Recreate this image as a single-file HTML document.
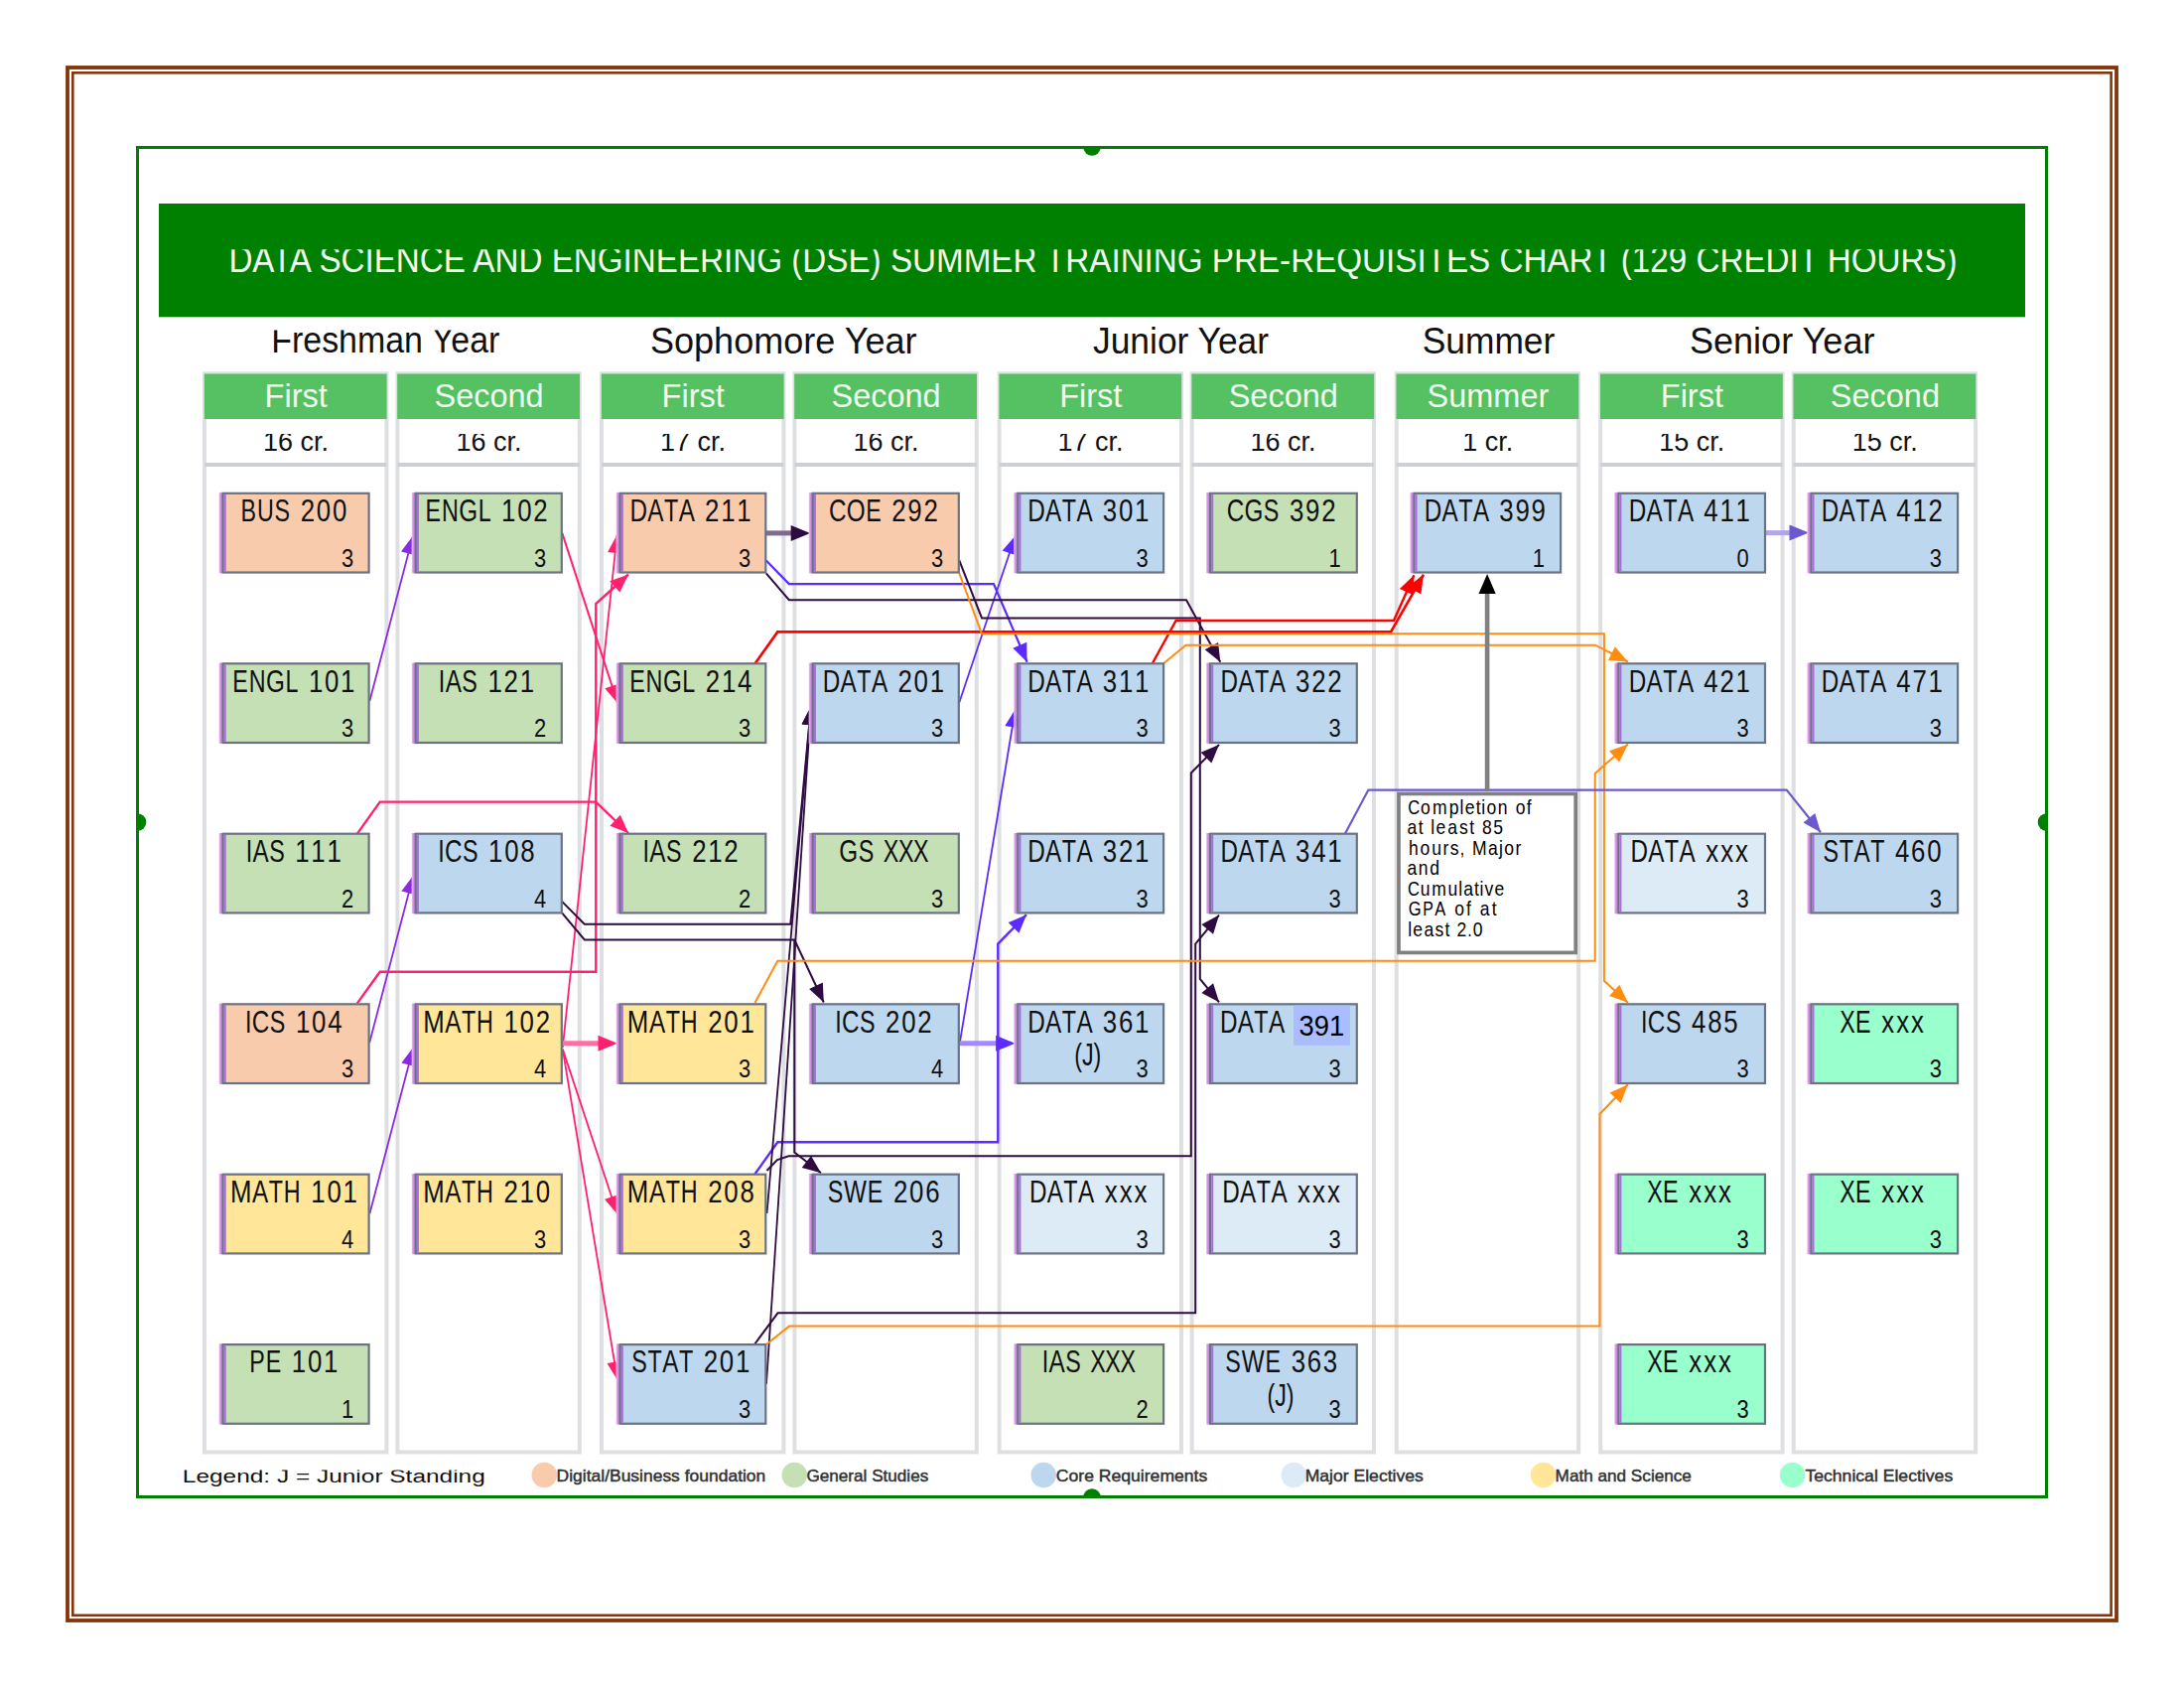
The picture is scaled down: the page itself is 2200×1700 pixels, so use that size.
<!DOCTYPE html><html><head><meta charset="utf-8"><title>DSE Chart</title>
<style>html,body{margin:0;padding:0;background:#fff}svg{display:block}</style></head><body>
<svg width="2200" height="1700" viewBox="0 0 2200 1700" font-family="Liberation Sans, sans-serif">
<rect width="2200" height="1700" fill="#fff"/>
<defs><linearGradient id="og" x1="0" x2="1" y1="0" y2="0"><stop offset="0" stop-color="#F0D0F5"/><stop offset="0.4" stop-color="#D893E8"/><stop offset="1" stop-color="#BF7DD8"/></linearGradient></defs>
<rect x="68" y="68" width="2064" height="1564" fill="none" stroke="#84350C" stroke-width="3.8"/>
<rect x="73.3" y="73.3" width="2053.3" height="1553.5" fill="none" stroke="#84350C" stroke-width="2.6"/>
<clipPath id="c1"><rect x="0" y="251.2" width="2200" height="60"/></clipPath><clipPath id="c2"><rect x="0" y="332.5" width="2200" height="60"/></clipPath><clipPath id="c3"><rect x="0" y="436.9" width="2200" height="60"/></clipPath><clipPath id="c4"><rect x="0" y="1480.5" width="2200" height="60"/></clipPath>
<clipPath id="gc"><rect x="137" y="147" width="1926" height="1362"/></clipPath>
<g clip-path="url(#gc)">
<circle cx="1100" cy="148" r="8.8" fill="#008000"/>
<circle cx="1100" cy="1508" r="8.8" fill="#008000"/>
<circle cx="138.5" cy="828" r="8.8" fill="#008000"/>
<circle cx="2061.5" cy="828" r="8.8" fill="#008000"/>
</g>
<rect x="138.5" y="148.5" width="1923" height="1359" fill="none" stroke="#008000" stroke-width="3"/>
<rect x="160" y="205" width="1880" height="114.3" fill="#008000"/>
<g clip-path="url(#c1)"><text transform="translate(230.4 273.6) scale(1 1.10)" x="0" y="0" font-size="33.2" fill="#F2FAF0" textLength="1741.2" lengthAdjust="spacingAndGlyphs">DATA SCIENCE AND ENGINEERING (DSE) SUMMER TRAINING PRE-REQUISITES CHART (129 CREDIT HOURS)</text></g>
<text x="273.3" y="355.0" font-size="36" fill="#111" text-anchor="start" textLength="230.0" lengthAdjust="spacingAndGlyphs" clip-path="url(#c2)">Freshman Year</text>
<text x="655.0" y="355.6" font-size="36" fill="#111" text-anchor="start" textLength="268.5" lengthAdjust="spacingAndGlyphs" >Sophomore Year</text>
<text x="1101.0" y="355.6" font-size="36" fill="#111" text-anchor="start" textLength="177.0" lengthAdjust="spacingAndGlyphs" >Junior Year</text>
<text x="1432.7" y="355.6" font-size="36" fill="#111" text-anchor="start" textLength="133.6" lengthAdjust="spacingAndGlyphs" >Summer</text>
<text x="1701.9" y="355.6" font-size="36" fill="#111" text-anchor="start" textLength="186.6" lengthAdjust="spacingAndGlyphs" >Senior Year</text>
<rect x="206.0" y="376.3" width="183.4" height="1086.2" fill="#fff" stroke="#DEDFE2" stroke-width="4"/>
<rect x="205.8" y="376.5" width="183.8" height="45.5" fill="#55C162"/>
<rect x="206.0" y="466" width="183.4" height="4" fill="#CDD0D5"/>
<text x="298.2" y="409.8" font-size="32.5" fill="#F0FAEF" text-anchor="middle" >First</text>
<text x="298.0" y="453.6" font-size="27" fill="#111" text-anchor="middle" clip-path="url(#c3)">16 cr.</text>
<rect x="400.4" y="376.3" width="183.4" height="1086.2" fill="#fff" stroke="#DEDFE2" stroke-width="4"/>
<rect x="400.2" y="376.5" width="183.8" height="45.5" fill="#55C162"/>
<rect x="400.4" y="466" width="183.4" height="4" fill="#CDD0D5"/>
<text x="492.6" y="409.8" font-size="32.5" fill="#F0FAEF" text-anchor="middle" >Second</text>
<text x="492.4" y="453.6" font-size="27" fill="#111" text-anchor="middle" clip-path="url(#c3)">16 cr.</text>
<rect x="606.0" y="376.3" width="183.4" height="1086.2" fill="#fff" stroke="#DEDFE2" stroke-width="4"/>
<rect x="605.8" y="376.5" width="183.8" height="45.5" fill="#55C162"/>
<rect x="606.0" y="466" width="183.4" height="4" fill="#CDD0D5"/>
<text x="698.2" y="409.8" font-size="32.5" fill="#F0FAEF" text-anchor="middle" >First</text>
<text x="698.0" y="453.6" font-size="27" fill="#111" text-anchor="middle" clip-path="url(#c3)">17 cr.</text>
<rect x="800.4" y="376.3" width="183.4" height="1086.2" fill="#fff" stroke="#DEDFE2" stroke-width="4"/>
<rect x="800.2" y="376.5" width="183.8" height="45.5" fill="#55C162"/>
<rect x="800.4" y="466" width="183.4" height="4" fill="#CDD0D5"/>
<text x="892.6" y="409.8" font-size="32.5" fill="#F0FAEF" text-anchor="middle" >Second</text>
<text x="892.4" y="453.6" font-size="27" fill="#111" text-anchor="middle" clip-path="url(#c3)">16 cr.</text>
<rect x="1006.6" y="376.3" width="183.4" height="1086.2" fill="#fff" stroke="#DEDFE2" stroke-width="4"/>
<rect x="1006.4" y="376.5" width="183.8" height="45.5" fill="#55C162"/>
<rect x="1006.6" y="466" width="183.4" height="4" fill="#CDD0D5"/>
<text x="1098.8" y="409.8" font-size="32.5" fill="#F0FAEF" text-anchor="middle" >First</text>
<text x="1098.6" y="453.6" font-size="27" fill="#111" text-anchor="middle" clip-path="url(#c3)">17 cr.</text>
<rect x="1200.6" y="376.3" width="183.4" height="1086.2" fill="#fff" stroke="#DEDFE2" stroke-width="4"/>
<rect x="1200.4" y="376.5" width="183.8" height="45.5" fill="#55C162"/>
<rect x="1200.6" y="466" width="183.4" height="4" fill="#CDD0D5"/>
<text x="1292.8" y="409.8" font-size="32.5" fill="#F0FAEF" text-anchor="middle" >Second</text>
<text x="1292.6" y="453.6" font-size="27" fill="#111" text-anchor="middle" clip-path="url(#c3)">16 cr.</text>
<rect x="1406.7" y="376.3" width="183.4" height="1086.2" fill="#fff" stroke="#DEDFE2" stroke-width="4"/>
<rect x="1406.5" y="376.5" width="183.8" height="45.5" fill="#55C162"/>
<rect x="1406.7" y="466" width="183.4" height="4" fill="#CDD0D5"/>
<text x="1498.9" y="409.8" font-size="32.5" fill="#F0FAEF" text-anchor="middle" >Summer</text>
<text x="1498.7" y="453.6" font-size="27" fill="#111" text-anchor="middle" clip-path="url(#c3)">1 cr.</text>
<rect x="1612.2" y="376.3" width="183.4" height="1086.2" fill="#fff" stroke="#DEDFE2" stroke-width="4"/>
<rect x="1612.0" y="376.5" width="183.8" height="45.5" fill="#55C162"/>
<rect x="1612.2" y="466" width="183.4" height="4" fill="#CDD0D5"/>
<text x="1704.4" y="409.8" font-size="32.5" fill="#F0FAEF" text-anchor="middle" >First</text>
<text x="1704.2" y="453.6" font-size="27" fill="#111" text-anchor="middle" clip-path="url(#c3)">15 cr.</text>
<rect x="1806.7" y="376.3" width="183.4" height="1086.2" fill="#fff" stroke="#DEDFE2" stroke-width="4"/>
<rect x="1806.5" y="376.5" width="183.8" height="45.5" fill="#55C162"/>
<rect x="1806.7" y="466" width="183.4" height="4" fill="#CDD0D5"/>
<text x="1898.9" y="409.8" font-size="32.5" fill="#F0FAEF" text-anchor="middle" >Second</text>
<text x="1898.7" y="453.6" font-size="27" fill="#111" text-anchor="middle" clip-path="url(#c3)">15 cr.</text>
<path d="M372.4,706.0 L416.0,539.5" fill="none" stroke="#8A2BE2" stroke-width="1.8" stroke-linejoin="miter"/>
<polygon points="416.0,539.5 418.7,559.3 404.0,555.5" fill="#8A2BE2"/>
<path d="M372.2,1050.2 L416.4,881.5" fill="none" stroke="#8A2BE2" stroke-width="1.8" stroke-linejoin="miter"/>
<polygon points="416.4,881.5 419.1,901.3 404.4,897.5" fill="#8A2BE2"/>
<path d="M372.5,1222.0 L416.4,1054.5" fill="none" stroke="#8A2BE2" stroke-width="1.8" stroke-linejoin="miter"/>
<polygon points="416.4,1054.5 419.1,1074.3 404.4,1070.5" fill="#8A2BE2"/>
<path d="M566.3,536.9 L622.3,708.5" fill="none" stroke="#FF2070" stroke-width="2" stroke-linejoin="miter"/>
<polygon points="622.3,708.5 609.3,693.3 623.8,688.6" fill="#FF2070"/>
<path d="M359.9,839.6 L382.7,807.6 L600.2,807.6 L633.0,839.0" fill="none" stroke="#FF2070" stroke-width="2.4" stroke-linejoin="miter"/>
<polygon points="633.0,839.0 614.4,831.7 624.9,820.7" fill="#FF2070"/>
<path d="M359.9,1010.4 L382.7,978.8 L600.3,978.8 L600.3,608.0 L633.0,578.5" fill="none" stroke="#FF2070" stroke-width="2.4" stroke-linejoin="miter"/>
<polygon points="633.0,578.5 624.4,596.5 614.2,585.2" fill="#FF2070"/>
<path d="M566.8,1055.0 L621.6,538.5" fill="none" stroke="#FF2070" stroke-width="1.8" stroke-linejoin="miter"/>
<polygon points="621.6,538.5 627.2,557.7 612.1,556.1" fill="#FF2070"/>
<path d="M566.8,1056.6 L622.0,1223.0" fill="none" stroke="#FF2070" stroke-width="1.8" stroke-linejoin="miter"/>
<polygon points="622.0,1223.0 609.0,1207.8 623.4,1203.0" fill="#FF2070"/>
<path d="M566.8,1056.6 L622.0,1390.0" fill="none" stroke="#FF2070" stroke-width="1.8" stroke-linejoin="miter"/>
<polygon points="622.0,1390.0 611.5,1373.0 626.5,1370.5" fill="#FF2070"/>
<line x1="566" y1="1050.8" x2="606" y2="1050.8" stroke="#FF6FA3" stroke-width="5"/>
<polygon points="622.0,1050.8 602.5,1058.8 602.5,1042.8" fill="#FF2070"/>
<line x1="771.5" y1="536.9" x2="800" y2="536.9" stroke="#7D6A8C" stroke-width="5"/>
<polygon points="816.2,536.9 796.7,544.9 796.7,528.9" fill="#2E0B40"/>
<path d="M771.8,564.6 L794.8,588.1 L1001.0,588.1 L1034.6,666.8" fill="none" stroke="#5B2BFF" stroke-width="2.2" stroke-linejoin="miter"/>
<polygon points="1034.6,666.8 1020.3,652.8 1034.3,646.8" fill="#5B2BFF"/>
<path d="M966.2,707.8 L1022.8,539.5" fill="none" stroke="#5B2BFF" stroke-width="1.8" stroke-linejoin="miter"/>
<polygon points="1022.8,539.5 1024.1,559.5 1009.7,554.6" fill="#5B2BFF"/>
<path d="M966.9,1049.7 L1022.8,714.0" fill="none" stroke="#5B2BFF" stroke-width="1.8" stroke-linejoin="miter"/>
<polygon points="1022.8,714.0 1027.3,733.5 1012.3,731.0" fill="#5B2BFF"/>
<path d="M760.4,1182.5 L783.3,1150.2 L1005.3,1150.2 L1005.3,950.6 L1034.0,921.2" fill="none" stroke="#5B2BFF" stroke-width="2.4" stroke-linejoin="miter"/>
<polygon points="1034.0,921.2 1026.5,939.7 1015.6,929.1" fill="#5B2BFF"/>
<line x1="966.5" y1="1050.8" x2="1006" y2="1050.8" stroke="#A488FF" stroke-width="5"/>
<polygon points="1022.6,1050.8 1003.1,1058.8 1003.1,1042.8" fill="#5B2BFF"/>
<path d="M771.8,577.4 L794.8,604.2 L1195.0,604.2 L1229.3,666.8" fill="none" stroke="#2E0B40" stroke-width="2" stroke-linejoin="miter"/>
<polygon points="1229.3,666.8 1213.7,654.2 1227.1,646.9" fill="#2E0B40"/>
<path d="M966.2,564.2 L989.0,622.4 L1208.8,622.4 L1208.8,986.0 L1228.0,1009.3" fill="none" stroke="#2E0B40" stroke-width="2" stroke-linejoin="miter"/>
<polygon points="1228.0,1009.3 1210.4,999.9 1222.1,990.2" fill="#2E0B40"/>
<path d="M566.1,907.9 L588.8,930.8 L796.3,930.8 L816.9,711.5" fill="none" stroke="#2E0B40" stroke-width="2" stroke-linejoin="miter"/>
<polygon points="816.9,711.5 822.7,730.6 807.6,729.2" fill="#2E0B40"/>
<path d="M566.1,919.3 L588.8,946.5 L800.3,946.5 L829.8,1009.5" fill="none" stroke="#2E0B40" stroke-width="2" stroke-linejoin="miter"/>
<polygon points="829.8,1009.5 815.1,996.0 828.8,989.5" fill="#2E0B40"/>
<path d="M800.3,946.5 L800.3,1160.6 L827.0,1181.3" fill="none" stroke="#2E0B40" stroke-width="2" stroke-linejoin="miter"/>
<polygon points="827.0,1181.3 807.7,1176.0 817.0,1164.0" fill="#2E0B40"/>
<path d="M772.5,1222.0 L816.9,711.5" fill="none" stroke="#2E0B40" stroke-width="1.8" stroke-linejoin="miter"/>
<polygon points="816.9,711.5 822.9,730.6 807.7,729.3" fill="#2E0B40"/>
<path d="M772.0,1393.8 L816.9,711.5" fill="none" stroke="#2E0B40" stroke-width="1.8" stroke-linejoin="miter"/>
<polygon points="816.9,711.5 823.3,730.5 808.1,729.5" fill="#2E0B40"/>
<path d="M772.5,1179.0 L783.0,1168.0 L794.5,1164.3 L1199.8,1164.3 L1199.8,778.5 L1228.0,750.0" fill="none" stroke="#2E0B40" stroke-width="2" stroke-linejoin="miter"/>
<polygon points="1228.0,750.0 1220.4,768.5 1209.6,757.8" fill="#2E0B40"/>
<path d="M760.0,1354.0 L783.5,1322.3 L1204.2,1322.3 L1204.2,950.6 L1228.0,921.6" fill="none" stroke="#2E0B40" stroke-width="2" stroke-linejoin="miter"/>
<polygon points="1228.0,921.6 1222.1,940.7 1210.4,931.1" fill="#2E0B40"/>
<path d="M760.4,668.4 L783.3,636.4 L1401.0,636.4 L1434.0,578.6" fill="none" stroke="#FF0000" stroke-width="2.6" stroke-linejoin="miter"/>
<polygon points="1434.0,578.6 1431.4,598.4 1418.2,590.9" fill="#FF0000"/>
<path d="M1160.9,668.0 L1184.6,625.0 L1404.0,625.0 L1424.4,579.2" fill="none" stroke="#FF0000" stroke-width="2.4" stroke-linejoin="miter"/>
<polygon points="1424.4,579.2 1423.8,599.2 1409.9,593.0" fill="#FF0000"/>
<path d="M966.2,577.0 L989.0,638.2 L1615.9,638.2 L1615.9,987.7 L1639.9,1009.8" fill="none" stroke="#FF8C10" stroke-width="2" stroke-linejoin="miter"/>
<polygon points="1639.9,1009.8 1621.1,1002.9 1631.4,991.7" fill="#FF8C10"/>
<path d="M1172.3,668.0 L1194.5,649.7 L1607.0,649.7 L1639.9,666.5" fill="none" stroke="#FF8C10" stroke-width="2" stroke-linejoin="miter"/>
<polygon points="1639.9,666.5 1620.0,664.9 1626.9,651.3" fill="#FF8C10"/>
<path d="M760.4,1010.0 L783.3,967.7 L1606.7,967.7 L1606.7,779.0 L1639.9,749.6" fill="none" stroke="#FF8C10" stroke-width="2" stroke-linejoin="miter"/>
<polygon points="1639.9,749.6 1631.1,767.6 1621.0,756.2" fill="#FF8C10"/>
<path d="M772.0,1354.0 L795.0,1335.6 L1611.5,1335.6 L1611.5,1122.0 L1639.9,1092.3" fill="none" stroke="#FF8C10" stroke-width="2" stroke-linejoin="miter"/>
<polygon points="1639.9,1092.3 1632.6,1110.9 1621.6,1100.4" fill="#FF8C10"/>
<path d="M1355.0,839.4 L1378.4,795.6 L1799.7,795.6 L1834.0,838.2" fill="none" stroke="#6A5ACD" stroke-width="2.2" stroke-linejoin="miter"/>
<polygon points="1834.0,838.2 1816.5,828.6 1828.3,819.0" fill="#6A5ACD"/>
<line x1="1778.5" y1="536.6" x2="1806" y2="536.6" stroke="#B3A6E6" stroke-width="5"/>
<polygon points="1822.0,536.6 1802.5,544.6 1802.5,528.6" fill="#6A5ACD"/>
<line x1="1498.1" y1="797" x2="1498.1" y2="595" stroke="#808080" stroke-width="4.6"/>
<polygon points="1498.1,578.0 1506.7,598.0 1489.5,598.0" fill="#000"/>
<rect x="220.5" y="496.1" width="3.4" height="81.2" fill="url(#og)"/>
<rect x="224.6" y="496.8" width="147.0" height="79.7" fill="#F8CBAD" stroke="#6B7383" stroke-width="2.2"/>
<rect x="225.7" y="497.9" width="2" height="77.5" fill="#AC69E0"/>
<text transform="translate(296.1 525.1) scale(0.74 1)" x="-72.50 -50.30 -26.38" y="0" font-size="31.5" fill="#111">BUS</text>
<text transform="translate(296.1 525.1) scale(0.82 1)" x="8.06 27.71 47.36" y="0" font-size="31.5" fill="#111">200</text>
<text x="356.1" y="570.7" font-size="25" fill="#111" text-anchor="end" textLength="12.2" lengthAdjust="spacingAndGlyphs" >3</text>
<rect x="220.5" y="667.6" width="3.4" height="81.2" fill="url(#og)"/>
<rect x="224.6" y="668.3" width="147.0" height="79.7" fill="#C5E0B4" stroke="#6B7383" stroke-width="2.2"/>
<rect x="225.7" y="669.4" width="2" height="77.5" fill="#AC69E0"/>
<text transform="translate(296.1 696.6) scale(0.74 1)" x="-83.57 -61.38" y="0" font-size="31.5" fill="#111">EN</text>
<text transform="translate(296.1 696.6) scale(0.77 1)" x="-36.38" y="0" font-size="31.5" fill="#111">G</text>
<text transform="translate(296.1 696.6) scale(0.74 1)" x="-11.72" y="0" font-size="31.5" fill="#111">L</text>
<text transform="translate(296.1 696.6) scale(0.82 1)" x="18.05 37.70 57.35" y="0" font-size="31.5" fill="#111">101</text>
<text x="356.1" y="742.2" font-size="25" fill="#111" text-anchor="end" textLength="12.2" lengthAdjust="spacingAndGlyphs" >3</text>
<rect x="220.5" y="839.0" width="3.4" height="81.2" fill="url(#og)"/>
<rect x="224.6" y="839.7" width="147.0" height="79.7" fill="#C5E0B4" stroke="#6B7383" stroke-width="2.2"/>
<rect x="225.7" y="840.8" width="2" height="77.5" fill="#AC69E0"/>
<text transform="translate(296.1 868.0) scale(0.74 1)" x="-65.46" y="0" font-size="31.5" fill="#111">I</text>
<text transform="translate(296.1 868.0) scale(0.77 1)" x="-54.13" y="0" font-size="31.5" fill="#111">A</text>
<text transform="translate(296.1 868.0) scale(0.74 1)" x="-33.75" y="0" font-size="31.5" fill="#111">S</text>
<text transform="translate(296.1 868.0) scale(0.82 1)" x="1.40 21.05 40.70" y="0" font-size="31.5" fill="#111">111</text>
<text x="356.1" y="913.6" font-size="25" fill="#111" text-anchor="end" textLength="12.2" lengthAdjust="spacingAndGlyphs" >2</text>
<rect x="220.5" y="1010.6" width="3.4" height="81.2" fill="url(#og)"/>
<rect x="224.6" y="1011.3" width="147.0" height="79.7" fill="#F8CBAD" stroke="#6B7383" stroke-width="2.2"/>
<rect x="225.7" y="1012.4" width="2" height="77.5" fill="#AC69E0"/>
<text transform="translate(296.1 1039.6) scale(0.74 1)" x="-66.37" y="0" font-size="31.5" fill="#111">I</text>
<text transform="translate(296.1 1039.6) scale(0.77 1)" x="-54.99" y="0" font-size="31.5" fill="#111">C</text>
<text transform="translate(296.1 1039.6) scale(0.74 1)" x="-32.84" y="0" font-size="31.5" fill="#111">S</text>
<text transform="translate(296.1 1039.6) scale(0.82 1)" x="2.23 21.88 41.53" y="0" font-size="31.5" fill="#111">104</text>
<text x="356.1" y="1085.2" font-size="25" fill="#111" text-anchor="end" textLength="12.2" lengthAdjust="spacingAndGlyphs" >3</text>
<rect x="220.5" y="1182.0" width="3.4" height="81.2" fill="url(#og)"/>
<rect x="224.6" y="1182.7" width="147.0" height="79.7" fill="#FFE699" stroke="#6B7383" stroke-width="2.2"/>
<rect x="225.7" y="1183.8" width="2" height="77.5" fill="#AC69E0"/>
<text transform="translate(296.1 1211.0) scale(0.82 1)" x="-78.22" y="0" font-size="31.5" fill="#111">M</text>
<text transform="translate(296.1 1211.0) scale(0.77 1)" x="-54.54" y="0" font-size="31.5" fill="#111">A</text>
<text transform="translate(296.1 1211.0) scale(0.74 1)" x="-34.22 -13.84" y="0" font-size="31.5" fill="#111">TH</text>
<text transform="translate(296.1 1211.0) scale(0.82 1)" x="20.98 40.63 60.28" y="0" font-size="31.5" fill="#111">101</text>
<text x="356.1" y="1256.6" font-size="25" fill="#111" text-anchor="end" textLength="12.2" lengthAdjust="spacingAndGlyphs" >4</text>
<rect x="220.5" y="1353.4" width="3.4" height="81.2" fill="url(#og)"/>
<rect x="224.6" y="1354.1" width="147.0" height="79.7" fill="#C5E0B4" stroke="#6B7383" stroke-width="2.2"/>
<rect x="225.7" y="1355.2" width="2" height="77.5" fill="#AC69E0"/>
<text transform="translate(296.1 1382.4) scale(0.74 1)" x="-60.51 -38.37" y="0" font-size="31.5" fill="#111">PE</text>
<text transform="translate(296.1 1382.4) scale(0.82 1)" x="-2.76 16.89 36.54" y="0" font-size="31.5" fill="#111">101</text>
<text x="356.1" y="1428.0" font-size="25" fill="#111" text-anchor="end" textLength="12.2" lengthAdjust="spacingAndGlyphs" >1</text>
<rect x="414.7" y="496.1" width="3.4" height="81.2" fill="url(#og)"/>
<rect x="418.8" y="496.8" width="147.0" height="79.7" fill="#C5E0B4" stroke="#6B7383" stroke-width="2.2"/>
<rect x="419.9" y="497.9" width="2" height="77.5" fill="#AC69E0"/>
<text transform="translate(490.3 525.1) scale(0.74 1)" x="-83.57 -61.38" y="0" font-size="31.5" fill="#111">EN</text>
<text transform="translate(490.3 525.1) scale(0.77 1)" x="-36.38" y="0" font-size="31.5" fill="#111">G</text>
<text transform="translate(490.3 525.1) scale(0.74 1)" x="-11.72" y="0" font-size="31.5" fill="#111">L</text>
<text transform="translate(490.3 525.1) scale(0.82 1)" x="18.05 37.70 57.35" y="0" font-size="31.5" fill="#111">102</text>
<text x="550.3" y="570.7" font-size="25" fill="#111" text-anchor="end" textLength="12.2" lengthAdjust="spacingAndGlyphs" >3</text>
<rect x="414.7" y="667.6" width="3.4" height="81.2" fill="url(#og)"/>
<rect x="418.8" y="668.3" width="147.0" height="79.7" fill="#C5E0B4" stroke="#6B7383" stroke-width="2.2"/>
<rect x="419.9" y="669.4" width="2" height="77.5" fill="#AC69E0"/>
<text transform="translate(490.3 696.6) scale(0.74 1)" x="-65.46" y="0" font-size="31.5" fill="#111">I</text>
<text transform="translate(490.3 696.6) scale(0.77 1)" x="-54.13" y="0" font-size="31.5" fill="#111">A</text>
<text transform="translate(490.3 696.6) scale(0.74 1)" x="-33.75" y="0" font-size="31.5" fill="#111">S</text>
<text transform="translate(490.3 696.6) scale(0.82 1)" x="1.40 21.05 40.70" y="0" font-size="31.5" fill="#111">121</text>
<text x="550.3" y="742.2" font-size="25" fill="#111" text-anchor="end" textLength="12.2" lengthAdjust="spacingAndGlyphs" >2</text>
<rect x="414.7" y="839.0" width="3.4" height="81.2" fill="url(#og)"/>
<rect x="418.8" y="839.7" width="147.0" height="79.7" fill="#BDD7EE" stroke="#6B7383" stroke-width="2.2"/>
<rect x="419.9" y="840.8" width="2" height="77.5" fill="#AC69E0"/>
<text transform="translate(490.3 868.0) scale(0.74 1)" x="-66.37" y="0" font-size="31.5" fill="#111">I</text>
<text transform="translate(490.3 868.0) scale(0.77 1)" x="-54.99" y="0" font-size="31.5" fill="#111">C</text>
<text transform="translate(490.3 868.0) scale(0.74 1)" x="-32.84" y="0" font-size="31.5" fill="#111">S</text>
<text transform="translate(490.3 868.0) scale(0.82 1)" x="2.23 21.88 41.53" y="0" font-size="31.5" fill="#111">108</text>
<text x="550.3" y="913.6" font-size="25" fill="#111" text-anchor="end" textLength="12.2" lengthAdjust="spacingAndGlyphs" >4</text>
<rect x="414.7" y="1010.6" width="3.4" height="81.2" fill="url(#og)"/>
<rect x="418.8" y="1011.3" width="147.0" height="79.7" fill="#FFE699" stroke="#6B7383" stroke-width="2.2"/>
<rect x="419.9" y="1012.4" width="2" height="77.5" fill="#AC69E0"/>
<text transform="translate(490.3 1039.6) scale(0.82 1)" x="-78.22" y="0" font-size="31.5" fill="#111">M</text>
<text transform="translate(490.3 1039.6) scale(0.77 1)" x="-54.54" y="0" font-size="31.5" fill="#111">A</text>
<text transform="translate(490.3 1039.6) scale(0.74 1)" x="-34.22 -13.84" y="0" font-size="31.5" fill="#111">TH</text>
<text transform="translate(490.3 1039.6) scale(0.82 1)" x="20.98 40.63 60.28" y="0" font-size="31.5" fill="#111">102</text>
<text x="550.3" y="1085.2" font-size="25" fill="#111" text-anchor="end" textLength="12.2" lengthAdjust="spacingAndGlyphs" >4</text>
<rect x="414.7" y="1182.0" width="3.4" height="81.2" fill="url(#og)"/>
<rect x="418.8" y="1182.7" width="147.0" height="79.7" fill="#FFE699" stroke="#6B7383" stroke-width="2.2"/>
<rect x="419.9" y="1183.8" width="2" height="77.5" fill="#AC69E0"/>
<text transform="translate(490.3 1211.0) scale(0.82 1)" x="-78.22" y="0" font-size="31.5" fill="#111">M</text>
<text transform="translate(490.3 1211.0) scale(0.77 1)" x="-54.54" y="0" font-size="31.5" fill="#111">A</text>
<text transform="translate(490.3 1211.0) scale(0.74 1)" x="-34.22 -13.84" y="0" font-size="31.5" fill="#111">TH</text>
<text transform="translate(490.3 1211.0) scale(0.82 1)" x="20.98 40.63 60.28" y="0" font-size="31.5" fill="#111">210</text>
<text x="550.3" y="1256.6" font-size="25" fill="#111" text-anchor="end" textLength="12.2" lengthAdjust="spacingAndGlyphs" >3</text>
<rect x="620.6" y="496.1" width="3.4" height="81.2" fill="url(#og)"/>
<rect x="624.7" y="496.8" width="146.6" height="79.7" fill="#F8CBAD" stroke="#6B7383" stroke-width="2.2"/>
<rect x="625.8" y="497.9" width="2" height="77.5" fill="#AC69E0"/>
<text transform="translate(696.0 525.1) scale(0.77 1)" x="-79.82 -56.79" y="0" font-size="31.5" fill="#111">DA</text>
<text transform="translate(696.0 525.1) scale(0.74 1)" x="-36.57" y="0" font-size="31.5" fill="#111">T</text>
<text transform="translate(696.0 525.1) scale(0.77 1)" x="-16.01" y="0" font-size="31.5" fill="#111">A</text>
<text transform="translate(696.0 525.1) scale(0.82 1)" x="17.21 36.86 56.51" y="0" font-size="31.5" fill="#111">211</text>
<text x="756.2" y="570.7" font-size="25" fill="#111" text-anchor="end" textLength="12.2" lengthAdjust="spacingAndGlyphs" >3</text>
<rect x="620.6" y="667.6" width="3.4" height="81.2" fill="url(#og)"/>
<rect x="624.7" y="668.3" width="146.6" height="79.7" fill="#C5E0B4" stroke="#6B7383" stroke-width="2.2"/>
<rect x="625.8" y="669.4" width="2" height="77.5" fill="#AC69E0"/>
<text transform="translate(696.0 696.6) scale(0.74 1)" x="-83.57 -61.38" y="0" font-size="31.5" fill="#111">EN</text>
<text transform="translate(696.0 696.6) scale(0.77 1)" x="-36.38" y="0" font-size="31.5" fill="#111">G</text>
<text transform="translate(696.0 696.6) scale(0.74 1)" x="-11.72" y="0" font-size="31.5" fill="#111">L</text>
<text transform="translate(696.0 696.6) scale(0.82 1)" x="18.05 37.70 57.35" y="0" font-size="31.5" fill="#111">214</text>
<text x="756.2" y="742.2" font-size="25" fill="#111" text-anchor="end" textLength="12.2" lengthAdjust="spacingAndGlyphs" >3</text>
<rect x="620.6" y="839.0" width="3.4" height="81.2" fill="url(#og)"/>
<rect x="624.7" y="839.7" width="146.6" height="79.7" fill="#C5E0B4" stroke="#6B7383" stroke-width="2.2"/>
<rect x="625.8" y="840.8" width="2" height="77.5" fill="#AC69E0"/>
<text transform="translate(696.0 868.0) scale(0.74 1)" x="-65.46" y="0" font-size="31.5" fill="#111">I</text>
<text transform="translate(696.0 868.0) scale(0.77 1)" x="-54.13" y="0" font-size="31.5" fill="#111">A</text>
<text transform="translate(696.0 868.0) scale(0.74 1)" x="-33.75" y="0" font-size="31.5" fill="#111">S</text>
<text transform="translate(696.0 868.0) scale(0.82 1)" x="1.40 21.05 40.70" y="0" font-size="31.5" fill="#111">212</text>
<text x="756.2" y="913.6" font-size="25" fill="#111" text-anchor="end" textLength="12.2" lengthAdjust="spacingAndGlyphs" >2</text>
<rect x="620.6" y="1010.6" width="3.4" height="81.2" fill="url(#og)"/>
<rect x="624.7" y="1011.3" width="146.6" height="79.7" fill="#FFE699" stroke="#6B7383" stroke-width="2.2"/>
<rect x="625.8" y="1012.4" width="2" height="77.5" fill="#AC69E0"/>
<text transform="translate(696.0 1039.6) scale(0.82 1)" x="-78.22" y="0" font-size="31.5" fill="#111">M</text>
<text transform="translate(696.0 1039.6) scale(0.77 1)" x="-54.54" y="0" font-size="31.5" fill="#111">A</text>
<text transform="translate(696.0 1039.6) scale(0.74 1)" x="-34.22 -13.84" y="0" font-size="31.5" fill="#111">TH</text>
<text transform="translate(696.0 1039.6) scale(0.82 1)" x="20.98 40.63 60.28" y="0" font-size="31.5" fill="#111">201</text>
<text x="756.2" y="1085.2" font-size="25" fill="#111" text-anchor="end" textLength="12.2" lengthAdjust="spacingAndGlyphs" >3</text>
<rect x="620.6" y="1182.0" width="3.4" height="81.2" fill="url(#og)"/>
<rect x="624.7" y="1182.7" width="146.6" height="79.7" fill="#FFE699" stroke="#6B7383" stroke-width="2.2"/>
<rect x="625.8" y="1183.8" width="2" height="77.5" fill="#AC69E0"/>
<text transform="translate(696.0 1211.0) scale(0.82 1)" x="-78.22" y="0" font-size="31.5" fill="#111">M</text>
<text transform="translate(696.0 1211.0) scale(0.77 1)" x="-54.54" y="0" font-size="31.5" fill="#111">A</text>
<text transform="translate(696.0 1211.0) scale(0.74 1)" x="-34.22 -13.84" y="0" font-size="31.5" fill="#111">TH</text>
<text transform="translate(696.0 1211.0) scale(0.82 1)" x="20.98 40.63 60.28" y="0" font-size="31.5" fill="#111">208</text>
<text x="756.2" y="1256.6" font-size="25" fill="#111" text-anchor="end" textLength="12.2" lengthAdjust="spacingAndGlyphs" >3</text>
<rect x="620.6" y="1353.4" width="3.4" height="81.2" fill="url(#og)"/>
<rect x="624.7" y="1354.1" width="146.6" height="79.7" fill="#BDD7EE" stroke="#6B7383" stroke-width="2.2"/>
<rect x="625.8" y="1355.2" width="2" height="77.5" fill="#AC69E0"/>
<text transform="translate(696.0 1382.4) scale(0.74 1)" x="-80.80 -58.70" y="0" font-size="31.5" fill="#111">ST</text>
<text transform="translate(696.0 1382.4) scale(0.77 1)" x="-37.28" y="0" font-size="31.5" fill="#111">A</text>
<text transform="translate(696.0 1382.4) scale(0.74 1)" x="-16.27" y="0" font-size="31.5" fill="#111">T</text>
<text transform="translate(696.0 1382.4) scale(0.82 1)" x="15.55 35.20 54.85" y="0" font-size="31.5" fill="#111">201</text>
<text x="756.2" y="1428.0" font-size="25" fill="#111" text-anchor="end" textLength="12.2" lengthAdjust="spacingAndGlyphs" >3</text>
<rect x="814.7" y="496.1" width="3.4" height="81.2" fill="url(#og)"/>
<rect x="818.8" y="496.8" width="147.0" height="79.7" fill="#F8CBAD" stroke="#6B7383" stroke-width="2.2"/>
<rect x="819.9" y="497.9" width="2" height="77.5" fill="#AC69E0"/>
<text transform="translate(890.3 525.1) scale(0.77 1)" x="-71.84 -48.79" y="0" font-size="31.5" fill="#111">CO</text>
<text transform="translate(890.3 525.1) scale(0.74 1)" x="-24.54" y="0" font-size="31.5" fill="#111">E</text>
<text transform="translate(890.3 525.1) scale(0.82 1)" x="9.72 29.37 49.02" y="0" font-size="31.5" fill="#111">292</text>
<text x="950.3" y="570.7" font-size="25" fill="#111" text-anchor="end" textLength="12.2" lengthAdjust="spacingAndGlyphs" >3</text>
<rect x="814.7" y="667.6" width="3.4" height="81.2" fill="url(#og)"/>
<rect x="818.8" y="668.3" width="147.0" height="79.7" fill="#BDD7EE" stroke="#6B7383" stroke-width="2.2"/>
<rect x="819.9" y="669.4" width="2" height="77.5" fill="#AC69E0"/>
<text transform="translate(890.3 696.6) scale(0.77 1)" x="-79.82 -56.79" y="0" font-size="31.5" fill="#111">DA</text>
<text transform="translate(890.3 696.6) scale(0.74 1)" x="-36.57" y="0" font-size="31.5" fill="#111">T</text>
<text transform="translate(890.3 696.6) scale(0.77 1)" x="-16.01" y="0" font-size="31.5" fill="#111">A</text>
<text transform="translate(890.3 696.6) scale(0.82 1)" x="17.21 36.86 56.51" y="0" font-size="31.5" fill="#111">201</text>
<text x="950.3" y="742.2" font-size="25" fill="#111" text-anchor="end" textLength="12.2" lengthAdjust="spacingAndGlyphs" >3</text>
<rect x="814.7" y="839.0" width="3.4" height="81.2" fill="url(#og)"/>
<rect x="818.8" y="839.7" width="147.0" height="79.7" fill="#C5E0B4" stroke="#6B7383" stroke-width="2.2"/>
<rect x="819.9" y="840.8" width="2" height="77.5" fill="#AC69E0"/>
<text transform="translate(890.3 868.0) scale(0.77 1)" x="-58.39" y="0" font-size="31.5" fill="#111">G</text>
<text transform="translate(890.3 868.0) scale(0.74 1)" x="-34.53 -0.69 19.76 40.20" y="0" font-size="31.5" fill="#111">SXXX</text>
<text x="950.3" y="913.6" font-size="25" fill="#111" text-anchor="end" textLength="12.2" lengthAdjust="spacingAndGlyphs" >3</text>
<rect x="814.7" y="1010.6" width="3.4" height="81.2" fill="url(#og)"/>
<rect x="818.8" y="1011.3" width="147.0" height="79.7" fill="#BDD7EE" stroke="#6B7383" stroke-width="2.2"/>
<rect x="819.9" y="1012.4" width="2" height="77.5" fill="#AC69E0"/>
<text transform="translate(890.3 1039.6) scale(0.74 1)" x="-66.37" y="0" font-size="31.5" fill="#111">I</text>
<text transform="translate(890.3 1039.6) scale(0.77 1)" x="-54.99" y="0" font-size="31.5" fill="#111">C</text>
<text transform="translate(890.3 1039.6) scale(0.74 1)" x="-32.84" y="0" font-size="31.5" fill="#111">S</text>
<text transform="translate(890.3 1039.6) scale(0.82 1)" x="2.23 21.88 41.53" y="0" font-size="31.5" fill="#111">202</text>
<text x="950.3" y="1085.2" font-size="25" fill="#111" text-anchor="end" textLength="12.2" lengthAdjust="spacingAndGlyphs" >4</text>
<rect x="814.7" y="1182.0" width="3.4" height="81.2" fill="url(#og)"/>
<rect x="818.8" y="1182.7" width="147.0" height="79.7" fill="#BDD7EE" stroke="#6B7383" stroke-width="2.2"/>
<rect x="819.9" y="1183.8" width="2" height="77.5" fill="#AC69E0"/>
<text transform="translate(890.3 1211.0) scale(0.74 1)" x="-76.59" y="0" font-size="31.5" fill="#111">S</text>
<text transform="translate(890.3 1211.0) scale(0.77 1)" x="-52.28" y="0" font-size="31.5" fill="#111">W</text>
<text transform="translate(890.3 1211.0) scale(0.74 1)" x="-22.29" y="0" font-size="31.5" fill="#111">E</text>
<text transform="translate(890.3 1211.0) scale(0.82 1)" x="11.74 31.39 51.04" y="0" font-size="31.5" fill="#111">206</text>
<text x="950.3" y="1256.6" font-size="25" fill="#111" text-anchor="end" textLength="12.2" lengthAdjust="spacingAndGlyphs" >3</text>
<rect x="1021.2" y="496.1" width="3.4" height="81.2" fill="url(#og)"/>
<rect x="1025.3" y="496.8" width="146.8" height="79.7" fill="#BDD7EE" stroke="#6B7383" stroke-width="2.2"/>
<rect x="1026.4" y="497.9" width="2" height="77.5" fill="#AC69E0"/>
<text transform="translate(1096.7 525.1) scale(0.77 1)" x="-79.82 -56.79" y="0" font-size="31.5" fill="#111">DA</text>
<text transform="translate(1096.7 525.1) scale(0.74 1)" x="-36.57" y="0" font-size="31.5" fill="#111">T</text>
<text transform="translate(1096.7 525.1) scale(0.77 1)" x="-16.01" y="0" font-size="31.5" fill="#111">A</text>
<text transform="translate(1096.7 525.1) scale(0.82 1)" x="17.21 36.86 56.51" y="0" font-size="31.5" fill="#111">301</text>
<text x="1156.8" y="570.7" font-size="25" fill="#111" text-anchor="end" textLength="12.2" lengthAdjust="spacingAndGlyphs" >3</text>
<rect x="1021.2" y="667.6" width="3.4" height="81.2" fill="url(#og)"/>
<rect x="1025.3" y="668.3" width="146.8" height="79.7" fill="#BDD7EE" stroke="#6B7383" stroke-width="2.2"/>
<rect x="1026.4" y="669.4" width="2" height="77.5" fill="#AC69E0"/>
<text transform="translate(1096.7 696.6) scale(0.77 1)" x="-79.82 -56.79" y="0" font-size="31.5" fill="#111">DA</text>
<text transform="translate(1096.7 696.6) scale(0.74 1)" x="-36.57" y="0" font-size="31.5" fill="#111">T</text>
<text transform="translate(1096.7 696.6) scale(0.77 1)" x="-16.01" y="0" font-size="31.5" fill="#111">A</text>
<text transform="translate(1096.7 696.6) scale(0.82 1)" x="17.21 36.86 56.51" y="0" font-size="31.5" fill="#111">311</text>
<text x="1156.8" y="742.2" font-size="25" fill="#111" text-anchor="end" textLength="12.2" lengthAdjust="spacingAndGlyphs" >3</text>
<rect x="1021.2" y="839.0" width="3.4" height="81.2" fill="url(#og)"/>
<rect x="1025.3" y="839.7" width="146.8" height="79.7" fill="#BDD7EE" stroke="#6B7383" stroke-width="2.2"/>
<rect x="1026.4" y="840.8" width="2" height="77.5" fill="#AC69E0"/>
<text transform="translate(1096.7 868.0) scale(0.77 1)" x="-79.82 -56.79" y="0" font-size="31.5" fill="#111">DA</text>
<text transform="translate(1096.7 868.0) scale(0.74 1)" x="-36.57" y="0" font-size="31.5" fill="#111">T</text>
<text transform="translate(1096.7 868.0) scale(0.77 1)" x="-16.01" y="0" font-size="31.5" fill="#111">A</text>
<text transform="translate(1096.7 868.0) scale(0.82 1)" x="17.21 36.86 56.51" y="0" font-size="31.5" fill="#111">321</text>
<text x="1156.8" y="913.6" font-size="25" fill="#111" text-anchor="end" textLength="12.2" lengthAdjust="spacingAndGlyphs" >3</text>
<rect x="1021.2" y="1010.6" width="3.4" height="81.2" fill="url(#og)"/>
<rect x="1025.3" y="1011.3" width="146.8" height="79.7" fill="#BDD7EE" stroke="#6B7383" stroke-width="2.2"/>
<rect x="1026.4" y="1012.4" width="2" height="77.5" fill="#AC69E0"/>
<text transform="translate(1096.7 1039.6) scale(0.77 1)" x="-79.82 -56.79" y="0" font-size="31.5" fill="#111">DA</text>
<text transform="translate(1096.7 1039.6) scale(0.74 1)" x="-36.57" y="0" font-size="31.5" fill="#111">T</text>
<text transform="translate(1096.7 1039.6) scale(0.77 1)" x="-16.01" y="0" font-size="31.5" fill="#111">A</text>
<text transform="translate(1096.7 1039.6) scale(0.82 1)" x="17.21 36.86 56.51" y="0" font-size="31.5" fill="#111">361</text>
<text transform="translate(1095.7 1073.4) scale(0.74 1)" x="-18.22 -7.88 7.73" y="0" font-size="31.5" fill="#111">(J)</text>
<text x="1156.8" y="1085.2" font-size="25" fill="#111" text-anchor="end" textLength="12.2" lengthAdjust="spacingAndGlyphs" >3</text>
<rect x="1021.2" y="1182.0" width="3.4" height="81.2" fill="url(#og)"/>
<rect x="1025.3" y="1182.7" width="146.8" height="79.7" fill="#DDEBF7" stroke="#6B7383" stroke-width="2.2"/>
<rect x="1026.4" y="1183.8" width="2" height="77.5" fill="#AC69E0"/>
<text transform="translate(1096.7 1211.0) scale(0.77 1)" x="-77.58 -54.55" y="0" font-size="31.5" fill="#111">DA</text>
<text transform="translate(1096.7 1211.0) scale(0.74 1)" x="-34.24" y="0" font-size="31.5" fill="#111">T</text>
<text transform="translate(1096.7 1211.0) scale(0.77 1)" x="-13.77" y="0" font-size="31.5" fill="#111">A</text>
<text transform="translate(1096.7 1211.0) scale(0.82 1)" x="19.49 37.74 55.99" y="0" font-size="31.5" fill="#111">xxx</text>
<text x="1156.8" y="1256.6" font-size="25" fill="#111" text-anchor="end" textLength="12.2" lengthAdjust="spacingAndGlyphs" >3</text>
<rect x="1021.2" y="1353.4" width="3.4" height="81.2" fill="url(#og)"/>
<rect x="1025.3" y="1354.1" width="146.8" height="79.7" fill="#C5E0B4" stroke="#6B7383" stroke-width="2.2"/>
<rect x="1026.4" y="1355.2" width="2" height="77.5" fill="#AC69E0"/>
<text transform="translate(1096.7 1382.4) scale(0.74 1)" x="-63.46" y="0" font-size="31.5" fill="#111">I</text>
<text transform="translate(1096.7 1382.4) scale(0.77 1)" x="-52.21" y="0" font-size="31.5" fill="#111">A</text>
<text transform="translate(1096.7 1382.4) scale(0.74 1)" x="-31.75 2.09 22.53 42.97" y="0" font-size="31.5" fill="#111">SXXX</text>
<text x="1156.8" y="1428.0" font-size="25" fill="#111" text-anchor="end" textLength="12.2" lengthAdjust="spacingAndGlyphs" >2</text>
<rect x="1215.0" y="496.1" width="3.4" height="81.2" fill="url(#og)"/>
<rect x="1219.1" y="496.8" width="147.7" height="79.7" fill="#C5E0B4" stroke="#6B7383" stroke-width="2.2"/>
<rect x="1220.2" y="497.9" width="2" height="77.5" fill="#AC69E0"/>
<text transform="translate(1291.0 525.1) scale(0.77 1)" x="-71.84 -48.79" y="0" font-size="31.5" fill="#111">CG</text>
<text transform="translate(1291.0 525.1) scale(0.74 1)" x="-24.54" y="0" font-size="31.5" fill="#111">S</text>
<text transform="translate(1291.0 525.1) scale(0.82 1)" x="9.72 29.37 49.02" y="0" font-size="31.5" fill="#111">392</text>
<text x="1350.6" y="570.7" font-size="25" fill="#111" text-anchor="end" textLength="12.2" lengthAdjust="spacingAndGlyphs" >1</text>
<rect x="1215.0" y="667.6" width="3.4" height="81.2" fill="url(#og)"/>
<rect x="1219.1" y="668.3" width="147.7" height="79.7" fill="#BDD7EE" stroke="#6B7383" stroke-width="2.2"/>
<rect x="1220.2" y="669.4" width="2" height="77.5" fill="#AC69E0"/>
<text transform="translate(1291.0 696.6) scale(0.77 1)" x="-79.82 -56.79" y="0" font-size="31.5" fill="#111">DA</text>
<text transform="translate(1291.0 696.6) scale(0.74 1)" x="-36.57" y="0" font-size="31.5" fill="#111">T</text>
<text transform="translate(1291.0 696.6) scale(0.77 1)" x="-16.01" y="0" font-size="31.5" fill="#111">A</text>
<text transform="translate(1291.0 696.6) scale(0.82 1)" x="17.21 36.86 56.51" y="0" font-size="31.5" fill="#111">322</text>
<text x="1350.6" y="742.2" font-size="25" fill="#111" text-anchor="end" textLength="12.2" lengthAdjust="spacingAndGlyphs" >3</text>
<rect x="1215.0" y="839.0" width="3.4" height="81.2" fill="url(#og)"/>
<rect x="1219.1" y="839.7" width="147.7" height="79.7" fill="#BDD7EE" stroke="#6B7383" stroke-width="2.2"/>
<rect x="1220.2" y="840.8" width="2" height="77.5" fill="#AC69E0"/>
<text transform="translate(1291.0 868.0) scale(0.77 1)" x="-79.82 -56.79" y="0" font-size="31.5" fill="#111">DA</text>
<text transform="translate(1291.0 868.0) scale(0.74 1)" x="-36.57" y="0" font-size="31.5" fill="#111">T</text>
<text transform="translate(1291.0 868.0) scale(0.77 1)" x="-16.01" y="0" font-size="31.5" fill="#111">A</text>
<text transform="translate(1291.0 868.0) scale(0.82 1)" x="17.21 36.86 56.51" y="0" font-size="31.5" fill="#111">341</text>
<text x="1350.6" y="913.6" font-size="25" fill="#111" text-anchor="end" textLength="12.2" lengthAdjust="spacingAndGlyphs" >3</text>
<rect x="1215.0" y="1010.6" width="3.4" height="81.2" fill="url(#og)"/>
<rect x="1219.1" y="1011.3" width="147.7" height="79.7" fill="#BDD7EE" stroke="#6B7383" stroke-width="2.2"/>
<rect x="1220.2" y="1012.4" width="2" height="77.5" fill="#AC69E0"/>
<rect x="1303.1" y="1012.6" width="57" height="40.3" fill="#AABEFF"/>
<text transform="translate(1228.8 1039.6) scale(0.77 1)" x="0.15 23.17" y="0" font-size="31.5" fill="#111">DA</text>
<text transform="translate(1228.8 1039.6) scale(0.74 1)" x="46.64" y="0" font-size="31.5" fill="#111">T</text>
<text transform="translate(1228.8 1039.6) scale(0.77 1)" x="63.95" y="0" font-size="31.5" fill="#111">A</text>
<text x="1308.6" y="1042.9" font-size="28.8" fill="#000" text-anchor="start" textLength="45.6" lengthAdjust="spacingAndGlyphs" >391</text>
<text x="1350.6" y="1085.2" font-size="25" fill="#111" text-anchor="end" textLength="12.2" lengthAdjust="spacingAndGlyphs" >3</text>
<rect x="1215.0" y="1182.0" width="3.4" height="81.2" fill="url(#og)"/>
<rect x="1219.1" y="1182.7" width="147.7" height="79.7" fill="#DDEBF7" stroke="#6B7383" stroke-width="2.2"/>
<rect x="1220.2" y="1183.8" width="2" height="77.5" fill="#AC69E0"/>
<text transform="translate(1291.0 1211.0) scale(0.77 1)" x="-77.58 -54.55" y="0" font-size="31.5" fill="#111">DA</text>
<text transform="translate(1291.0 1211.0) scale(0.74 1)" x="-34.24" y="0" font-size="31.5" fill="#111">T</text>
<text transform="translate(1291.0 1211.0) scale(0.77 1)" x="-13.77" y="0" font-size="31.5" fill="#111">A</text>
<text transform="translate(1291.0 1211.0) scale(0.82 1)" x="19.49 37.74 55.99" y="0" font-size="31.5" fill="#111">xxx</text>
<text x="1350.6" y="1256.6" font-size="25" fill="#111" text-anchor="end" textLength="12.2" lengthAdjust="spacingAndGlyphs" >3</text>
<rect x="1215.0" y="1353.4" width="3.4" height="81.2" fill="url(#og)"/>
<rect x="1219.1" y="1354.1" width="147.7" height="79.7" fill="#BDD7EE" stroke="#6B7383" stroke-width="2.2"/>
<rect x="1220.2" y="1355.2" width="2" height="77.5" fill="#AC69E0"/>
<text transform="translate(1291.0 1382.4) scale(0.74 1)" x="-76.59" y="0" font-size="31.5" fill="#111">S</text>
<text transform="translate(1291.0 1382.4) scale(0.77 1)" x="-52.28" y="0" font-size="31.5" fill="#111">W</text>
<text transform="translate(1291.0 1382.4) scale(0.74 1)" x="-22.29" y="0" font-size="31.5" fill="#111">E</text>
<text transform="translate(1291.0 1382.4) scale(0.82 1)" x="11.74 31.39 51.04" y="0" font-size="31.5" fill="#111">363</text>
<text transform="translate(1290.0 1416.2) scale(0.74 1)" x="-18.22 -7.88 7.73" y="0" font-size="31.5" fill="#111">(J)</text>
<text x="1350.6" y="1428.0" font-size="25" fill="#111" text-anchor="end" textLength="12.2" lengthAdjust="spacingAndGlyphs" >3</text>
<rect x="1420.3" y="496.1" width="3.4" height="81.2" fill="url(#og)"/>
<rect x="1424.4" y="496.8" width="147.7" height="79.7" fill="#BDD7EE" stroke="#6B7383" stroke-width="2.2"/>
<rect x="1425.5" y="497.9" width="2" height="77.5" fill="#AC69E0"/>
<text transform="translate(1496.2 525.1) scale(0.77 1)" x="-79.82 -56.79" y="0" font-size="31.5" fill="#111">DA</text>
<text transform="translate(1496.2 525.1) scale(0.74 1)" x="-36.57" y="0" font-size="31.5" fill="#111">T</text>
<text transform="translate(1496.2 525.1) scale(0.77 1)" x="-16.01" y="0" font-size="31.5" fill="#111">A</text>
<text transform="translate(1496.2 525.1) scale(0.82 1)" x="17.21 36.86 56.51" y="0" font-size="31.5" fill="#111">399</text>
<text x="1555.9" y="570.7" font-size="25" fill="#111" text-anchor="end" textLength="12.2" lengthAdjust="spacingAndGlyphs" >1</text>
<rect x="1626.2" y="496.1" width="3.4" height="81.2" fill="url(#og)"/>
<rect x="1630.3" y="496.8" width="147.7" height="79.7" fill="#BDD7EE" stroke="#6B7383" stroke-width="2.2"/>
<rect x="1631.4" y="497.9" width="2" height="77.5" fill="#AC69E0"/>
<text transform="translate(1702.2 525.1) scale(0.77 1)" x="-79.82 -56.79" y="0" font-size="31.5" fill="#111">DA</text>
<text transform="translate(1702.2 525.1) scale(0.74 1)" x="-36.57" y="0" font-size="31.5" fill="#111">T</text>
<text transform="translate(1702.2 525.1) scale(0.77 1)" x="-16.01" y="0" font-size="31.5" fill="#111">A</text>
<text transform="translate(1702.2 525.1) scale(0.82 1)" x="17.21 36.86 56.51" y="0" font-size="31.5" fill="#111">411</text>
<text x="1761.8" y="570.7" font-size="25" fill="#111" text-anchor="end" textLength="12.2" lengthAdjust="spacingAndGlyphs" >0</text>
<rect x="1626.2" y="667.6" width="3.4" height="81.2" fill="url(#og)"/>
<rect x="1630.3" y="668.3" width="147.7" height="79.7" fill="#BDD7EE" stroke="#6B7383" stroke-width="2.2"/>
<rect x="1631.4" y="669.4" width="2" height="77.5" fill="#AC69E0"/>
<text transform="translate(1702.2 696.6) scale(0.77 1)" x="-79.82 -56.79" y="0" font-size="31.5" fill="#111">DA</text>
<text transform="translate(1702.2 696.6) scale(0.74 1)" x="-36.57" y="0" font-size="31.5" fill="#111">T</text>
<text transform="translate(1702.2 696.6) scale(0.77 1)" x="-16.01" y="0" font-size="31.5" fill="#111">A</text>
<text transform="translate(1702.2 696.6) scale(0.82 1)" x="17.21 36.86 56.51" y="0" font-size="31.5" fill="#111">421</text>
<text x="1761.8" y="742.2" font-size="25" fill="#111" text-anchor="end" textLength="12.2" lengthAdjust="spacingAndGlyphs" >3</text>
<rect x="1626.2" y="839.0" width="3.4" height="81.2" fill="url(#og)"/>
<rect x="1630.3" y="839.7" width="147.7" height="79.7" fill="#DDEBF7" stroke="#6B7383" stroke-width="2.2"/>
<rect x="1631.4" y="840.8" width="2" height="77.5" fill="#AC69E0"/>
<text transform="translate(1702.2 868.0) scale(0.77 1)" x="-77.58 -54.55" y="0" font-size="31.5" fill="#111">DA</text>
<text transform="translate(1702.2 868.0) scale(0.74 1)" x="-34.24" y="0" font-size="31.5" fill="#111">T</text>
<text transform="translate(1702.2 868.0) scale(0.77 1)" x="-13.77" y="0" font-size="31.5" fill="#111">A</text>
<text transform="translate(1702.2 868.0) scale(0.82 1)" x="19.49 37.74 55.99" y="0" font-size="31.5" fill="#111">xxx</text>
<text x="1761.8" y="913.6" font-size="25" fill="#111" text-anchor="end" textLength="12.2" lengthAdjust="spacingAndGlyphs" >3</text>
<rect x="1626.2" y="1010.6" width="3.4" height="81.2" fill="url(#og)"/>
<rect x="1630.3" y="1011.3" width="147.7" height="79.7" fill="#BDD7EE" stroke="#6B7383" stroke-width="2.2"/>
<rect x="1631.4" y="1012.4" width="2" height="77.5" fill="#AC69E0"/>
<text transform="translate(1702.2 1039.6) scale(0.74 1)" x="-66.37" y="0" font-size="31.5" fill="#111">I</text>
<text transform="translate(1702.2 1039.6) scale(0.77 1)" x="-54.99" y="0" font-size="31.5" fill="#111">C</text>
<text transform="translate(1702.2 1039.6) scale(0.74 1)" x="-32.84" y="0" font-size="31.5" fill="#111">S</text>
<text transform="translate(1702.2 1039.6) scale(0.82 1)" x="2.23 21.88 41.53" y="0" font-size="31.5" fill="#111">485</text>
<text x="1761.8" y="1085.2" font-size="25" fill="#111" text-anchor="end" textLength="12.2" lengthAdjust="spacingAndGlyphs" >3</text>
<rect x="1626.2" y="1182.0" width="3.4" height="81.2" fill="url(#og)"/>
<rect x="1630.3" y="1182.7" width="147.7" height="79.7" fill="#99FFCC" stroke="#6B7383" stroke-width="2.2"/>
<rect x="1631.4" y="1183.8" width="2" height="77.5" fill="#AC69E0"/>
<text transform="translate(1702.2 1211.0) scale(0.74 1)" x="-58.18 -36.89" y="0" font-size="31.5" fill="#111">XE</text>
<text transform="translate(1702.2 1211.0) scale(0.82 1)" x="-1.25 17.00 35.25" y="0" font-size="31.5" fill="#111">xxx</text>
<text x="1761.8" y="1256.6" font-size="25" fill="#111" text-anchor="end" textLength="12.2" lengthAdjust="spacingAndGlyphs" >3</text>
<rect x="1626.2" y="1353.4" width="3.4" height="81.2" fill="url(#og)"/>
<rect x="1630.3" y="1354.1" width="147.7" height="79.7" fill="#99FFCC" stroke="#6B7383" stroke-width="2.2"/>
<rect x="1631.4" y="1355.2" width="2" height="77.5" fill="#AC69E0"/>
<text transform="translate(1702.2 1382.4) scale(0.74 1)" x="-58.18 -36.89" y="0" font-size="31.5" fill="#111">XE</text>
<text transform="translate(1702.2 1382.4) scale(0.82 1)" x="-1.25 17.00 35.25" y="0" font-size="31.5" fill="#111">xxx</text>
<text x="1761.8" y="1428.0" font-size="25" fill="#111" text-anchor="end" textLength="12.2" lengthAdjust="spacingAndGlyphs" >3</text>
<rect x="1820.3" y="496.1" width="3.4" height="81.2" fill="url(#og)"/>
<rect x="1824.4" y="496.8" width="147.7" height="79.7" fill="#BDD7EE" stroke="#6B7383" stroke-width="2.2"/>
<rect x="1825.5" y="497.9" width="2" height="77.5" fill="#AC69E0"/>
<text transform="translate(1896.2 525.1) scale(0.77 1)" x="-79.82 -56.79" y="0" font-size="31.5" fill="#111">DA</text>
<text transform="translate(1896.2 525.1) scale(0.74 1)" x="-36.57" y="0" font-size="31.5" fill="#111">T</text>
<text transform="translate(1896.2 525.1) scale(0.77 1)" x="-16.01" y="0" font-size="31.5" fill="#111">A</text>
<text transform="translate(1896.2 525.1) scale(0.82 1)" x="17.21 36.86 56.51" y="0" font-size="31.5" fill="#111">412</text>
<text x="1955.9" y="570.7" font-size="25" fill="#111" text-anchor="end" textLength="12.2" lengthAdjust="spacingAndGlyphs" >3</text>
<rect x="1820.3" y="667.6" width="3.4" height="81.2" fill="url(#og)"/>
<rect x="1824.4" y="668.3" width="147.7" height="79.7" fill="#BDD7EE" stroke="#6B7383" stroke-width="2.2"/>
<rect x="1825.5" y="669.4" width="2" height="77.5" fill="#AC69E0"/>
<text transform="translate(1896.2 696.6) scale(0.77 1)" x="-79.82 -56.79" y="0" font-size="31.5" fill="#111">DA</text>
<text transform="translate(1896.2 696.6) scale(0.74 1)" x="-36.57" y="0" font-size="31.5" fill="#111">T</text>
<text transform="translate(1896.2 696.6) scale(0.77 1)" x="-16.01" y="0" font-size="31.5" fill="#111">A</text>
<text transform="translate(1896.2 696.6) scale(0.82 1)" x="17.21 36.86 56.51" y="0" font-size="31.5" fill="#111">471</text>
<text x="1955.9" y="742.2" font-size="25" fill="#111" text-anchor="end" textLength="12.2" lengthAdjust="spacingAndGlyphs" >3</text>
<rect x="1820.3" y="839.0" width="3.4" height="81.2" fill="url(#og)"/>
<rect x="1824.4" y="839.7" width="147.7" height="79.7" fill="#BDD7EE" stroke="#6B7383" stroke-width="2.2"/>
<rect x="1825.5" y="840.8" width="2" height="77.5" fill="#AC69E0"/>
<text transform="translate(1896.2 868.0) scale(0.74 1)" x="-80.80 -58.70" y="0" font-size="31.5" fill="#111">ST</text>
<text transform="translate(1896.2 868.0) scale(0.77 1)" x="-37.28" y="0" font-size="31.5" fill="#111">A</text>
<text transform="translate(1896.2 868.0) scale(0.74 1)" x="-16.27" y="0" font-size="31.5" fill="#111">T</text>
<text transform="translate(1896.2 868.0) scale(0.82 1)" x="15.55 35.20 54.85" y="0" font-size="31.5" fill="#111">460</text>
<text x="1955.9" y="913.6" font-size="25" fill="#111" text-anchor="end" textLength="12.2" lengthAdjust="spacingAndGlyphs" >3</text>
<rect x="1820.3" y="1010.6" width="3.4" height="81.2" fill="url(#og)"/>
<rect x="1824.4" y="1011.3" width="147.7" height="79.7" fill="#99FFCC" stroke="#6B7383" stroke-width="2.2"/>
<rect x="1825.5" y="1012.4" width="2" height="77.5" fill="#AC69E0"/>
<text transform="translate(1896.2 1039.6) scale(0.74 1)" x="-58.18 -36.89" y="0" font-size="31.5" fill="#111">XE</text>
<text transform="translate(1896.2 1039.6) scale(0.82 1)" x="-1.25 17.00 35.25" y="0" font-size="31.5" fill="#111">xxx</text>
<text x="1955.9" y="1085.2" font-size="25" fill="#111" text-anchor="end" textLength="12.2" lengthAdjust="spacingAndGlyphs" >3</text>
<rect x="1820.3" y="1182.0" width="3.4" height="81.2" fill="url(#og)"/>
<rect x="1824.4" y="1182.7" width="147.7" height="79.7" fill="#99FFCC" stroke="#6B7383" stroke-width="2.2"/>
<rect x="1825.5" y="1183.8" width="2" height="77.5" fill="#AC69E0"/>
<text transform="translate(1896.2 1211.0) scale(0.74 1)" x="-58.18 -36.89" y="0" font-size="31.5" fill="#111">XE</text>
<text transform="translate(1896.2 1211.0) scale(0.82 1)" x="-1.25 17.00 35.25" y="0" font-size="31.5" fill="#111">xxx</text>
<text x="1955.9" y="1256.6" font-size="25" fill="#111" text-anchor="end" textLength="12.2" lengthAdjust="spacingAndGlyphs" >3</text>
<rect x="1409.0" y="799.4" width="178.2" height="160" fill="#fff" stroke="#808080" stroke-width="3.7"/>
<text transform="translate(1418.0 819.6) scale(0.81 1)" x="0.17" y="0" font-size="20.4" fill="#000">C</text>
<text transform="translate(1418.0 819.6) scale(0.86 1)" x="15.17 28.97 48.42 61.14 67.05 79.86 86.42 92.32 105.63 126.37 139.19" y="0" font-size="20.4" fill="#000">ompletionof</text>
<text transform="translate(1416.6 840.1) scale(0.86 1)" x="1.17 14.27 28.63 34.80 48.49 62.06 73.90 88.75 102.00" y="0" font-size="20.4" fill="#000">atleast85</text>
<text transform="translate(1418.0 860.7) scale(0.86 1)" x="1.09 14.62 28.15 41.24 49.67" y="0" font-size="20.4" fill="#000">hours</text>
<text transform="translate(1418.0 860.7) scale(0.78 1)" x="67.79" y="0" font-size="20.4" fill="#000">,</text>
<text transform="translate(1418.0 860.7) scale(0.86 1)" x="75.49 94.25 107.12 113.18 126.27" y="0" font-size="20.4" fill="#000">Major</text>
<text transform="translate(1416.6 881.2) scale(0.86 1)" x="0.98 14.27 27.57" y="0" font-size="20.4" fill="#000">and</text>
<text transform="translate(1418.0 901.8) scale(0.81 1)" x="-0.00" y="0" font-size="20.4" fill="#000">C</text>
<text transform="translate(1418.0 901.8) scale(0.86 1)" x="14.70 28.12 47.19 59.69 65.38 77.97 84.39 90.00 101.78" y="0" font-size="20.4" fill="#000">umulative</text>
<text transform="translate(1418.0 922.4) scale(0.81 1)" x="0.91" y="0" font-size="20.4" fill="#000">G</text>
<text transform="translate(1418.0 922.4) scale(0.78 1)" x="19.43" y="0" font-size="20.4" fill="#000">P</text>
<text transform="translate(1418.0 922.4) scale(0.81 1)" x="33.62" y="0" font-size="20.4" fill="#000">A</text>
<text transform="translate(1418.0 922.4) scale(0.86 1)" x="54.88 68.59 84.72 98.42" y="0" font-size="20.4" fill="#000">ofat</text>
<text transform="translate(1418.0 942.9) scale(0.86 1)" x="0.34 6.07 19.13 32.10 43.51 57.54" y="0" font-size="20.4" fill="#000">least2</text>
<text transform="translate(1418.0 942.9) scale(0.78 1)" x="77.25" y="0" font-size="20.4" fill="#000">.</text>
<text transform="translate(1418.0 942.9) scale(0.86 1)" x="76.38" y="0" font-size="20.4" fill="#000">0</text>
<text x="183.8" y="1492.5" font-size="19.2" fill="#111" text-anchor="start" textLength="305.0" lengthAdjust="spacingAndGlyphs" clip-path="url(#c4)">Legend: J = Junior Standing</text>
<circle cx="548.3" cy="1485.5" r="12.8" fill="#F8CBAD"/>
<text x="560.6" y="1492.0" font-size="17" fill="#303030" text-anchor="start" textLength="210.7" lengthAdjust="spacingAndGlyphs" stroke="#303030" stroke-width="0.45">Digital/Business foundation</text>
<circle cx="800.3" cy="1485.5" r="12.8" fill="#C5E0B4"/>
<text x="812.5" y="1492.0" font-size="17" fill="#303030" text-anchor="start" textLength="122.7" lengthAdjust="spacingAndGlyphs" stroke="#303030" stroke-width="0.45">General Studies</text>
<circle cx="1051.2" cy="1485.5" r="12.8" fill="#BDD7EE"/>
<text x="1063.8" y="1492.0" font-size="17" fill="#303030" text-anchor="start" textLength="152.5" lengthAdjust="spacingAndGlyphs" stroke="#303030" stroke-width="0.45">Core Requirements</text>
<circle cx="1303.3" cy="1485.5" r="12.8" fill="#DDEBF7"/>
<text x="1314.7" y="1492.0" font-size="17" fill="#303030" text-anchor="start" textLength="119.1" lengthAdjust="spacingAndGlyphs" stroke="#303030" stroke-width="0.45">Major Electives</text>
<circle cx="1554.6" cy="1485.5" r="12.8" fill="#FFE699"/>
<text x="1566.6" y="1492.0" font-size="17" fill="#303030" text-anchor="start" textLength="137.3" lengthAdjust="spacingAndGlyphs" stroke="#303030" stroke-width="0.45">Math and Science</text>
<circle cx="1805.6" cy="1485.5" r="12.8" fill="#99FFCC"/>
<text x="1818.4" y="1492.0" font-size="17" fill="#303030" text-anchor="start" textLength="148.8" lengthAdjust="spacingAndGlyphs" stroke="#303030" stroke-width="0.45">Technical Electives</text>
</svg></body></html>
